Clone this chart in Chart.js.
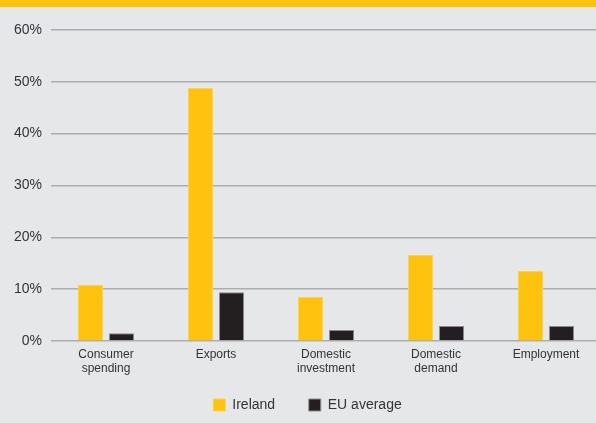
<!DOCTYPE html>
<html>
<head>
<meta charset="utf-8">
<script src="https://cdn.jsdelivr.net/npm/chart.js@4"></script>
<style>
  html, body { margin: 0; padding: 0; background: #e6e7e8; overflow: hidden; }
  #strip { height: 7px; background: #ffc20e; }
  #wrap { width: 606px; height: 416px; }
</style>
</head>
<body>
<div id="strip"></div>
<div id="wrap"><canvas id="growth"></canvas></div>
<script>
// categories and values (percent)
const categories = [["Consumer", "spending"], "Exports", ["Domestic", "investment"], ["Domestic", "demand"], "Employment"];
const ireland = [10.8, 48.8, 8.5, 16.6, 13.5];
const euAverage = [1.5, 9.4, 2.1, 2.9, 2.9];
const yTicks = [0, 10, 20, 30, 40, 50, 60];

const ctx = document.getElementById('growth').getContext('2d');
const growth = new Chart(ctx, {
    type: 'bar',
    data: {
        labels: categories,
        datasets: [{
            label: 'Ireland   ',
            data: ireland,
            backgroundColor: '#ffc20e',
            borderColor: '#ffd24d',
            borderWidth: 1,
            barPercentage: 0.806,
            categoryPercentage: 0.564
        }, {
            label: 'EU average',
            data: euAverage,
            backgroundColor: '#231f20',
            borderColor: '#8a8a8a',
            borderWidth: 1,
            barPercentage: 0.806,
            categoryPercentage: 0.564
        }]
    },
    options: {
        responsive: true,
        maintainAspectRatio: false,
        animation: false,
        layout: { padding: { top: 23, left: 14, right: 5, bottom: 1 } },
        plugins: {
            tooltip: { enabled: false },
            legend: {
                position: 'bottom',
                labels: {
                    boxWidth: 12,
                    boxHeight: 12,
                    padding: 22,
                    color: '#333333',
                    font: { family: 'Liberation Sans', size: 14 }
                }
            }
        },
        scales: {
            x: {
                grid: { display: false, drawTicks: false },
                border: { display: false },
                afterFit: (scale) => { scale.height -= 7; },
                ticks: {
                    color: '#333333',
                    padding: 7,
                    maxRotation: 0,
                    font: { family: 'Liberation Sans', size: 12, lineHeight: 1.17 }
                }
            },
            y: {
                min: 0,
                max: 60,
                afterBuildTicks: (scale) => { scale.ticks = yTicks.map(v => ({ value: v })); },
                afterFit: (scale) => { scale.width = 37; },
                grid: { color: '#adadad', lineWidth: 1.5, drawTicks: false },
                border: { display: false },
                ticks: {
                    color: '#333333',
                    padding: 9,
                    font: { family: 'Liberation Sans', size: 14 },
                    callback: (v) => v + '%'
                }
            }
        }
    }
});
</script>
</body>
</html>
